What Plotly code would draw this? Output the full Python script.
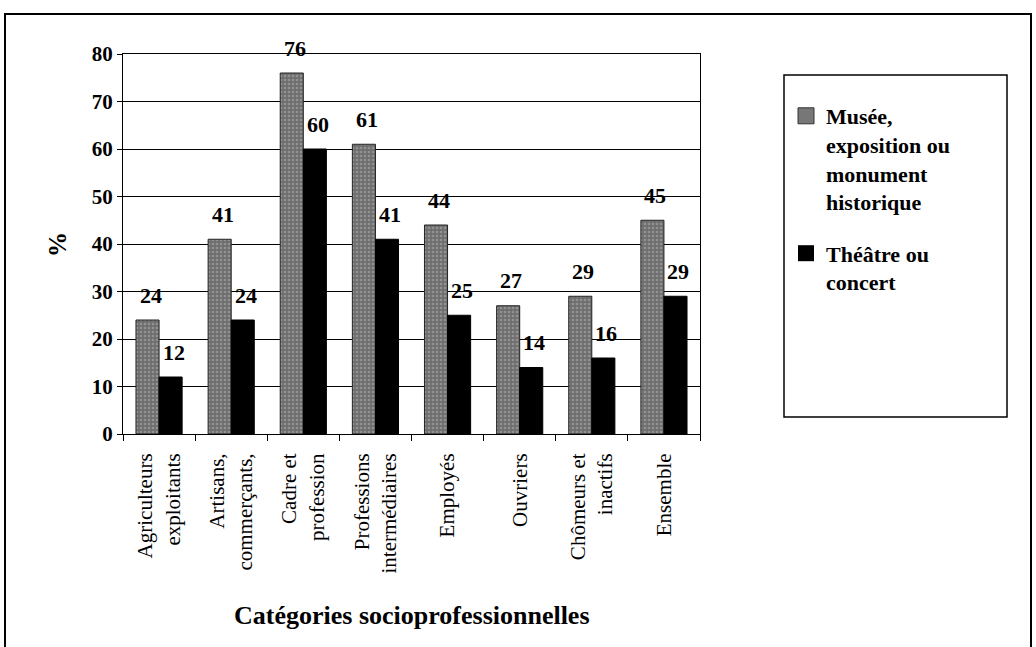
import plotly.graph_objects as go

categories = ["Agriculteurs<br>exploitants", "Artisans,<br>commerçants,", "Cadre et<br>profession",
              "Professions<br>intermédiaires", "Employés", "Ouvriers", "Chômeurs et<br>inactifs", "Ensemble"]
musee = [24, 41, 76, 61, 44, 27, 29, 45]
theatre = [12, 24, 60, 41, 25, 14, 16, 29]
y_ticks = [0, 10, 20, 30, 40, 50, 60, 70, 80]
series_names = ["Musée,<br>exposition ou<br>monument<br>historique", "Théâtre ou<br>concert"]

serif = "Liberation Serif"
W, H = 1036, 647
L, R, T, B = 123, 700, 54, 434
BARGAP = 0.36

def px(x):
    return (x - L) / (R - L)

def py(y):
    return (B - y) / (B - T)

musee_color = "#6e6e6e"
fig = go.Figure()
fig.add_trace(go.Bar(
    x=categories, y=musee, name=series_names[0], showlegend=False,
    marker=dict(color=musee_color, line=dict(color="#222", width=1),
                pattern=dict(shape=".", fgcolor="#b5b5b5", size=4, solidity=0.35)),
))
fig.add_trace(go.Bar(
    x=categories, y=theatre, name=series_names[1], showlegend=False,
    marker=dict(color="black", line=dict(color="black", width=1)),
))
# legend proxies (bigger square symbols)
fig.add_trace(go.Scatter(x=[None], y=[None], mode="markers", name=series_names[0], legendgroup="g1",
                         marker=dict(symbol="square", size=19, color="#777777",
                                     line=dict(color="#333", width=1))))
fig.add_trace(go.Scatter(x=[None], y=[None], mode="markers", name=series_names[1], legendgroup="g2",
                         marker=dict(symbol="square", size=19, color="black")))

# value labels above the bars
cat_px = (R - L) / len(categories)
bar_px = cat_px * (1 - BARGAP) / 2
for vals, sgn in ((musee, -1), (theatre, 1)):
    for c, v in zip(categories, vals):
        fig.add_annotation(x=c, y=v, xref="x", yref="y", text=f"<b>{v}</b>",
                           showarrow=False, xshift=sgn * bar_px / 2 + 3, yshift=25,
                           yanchor="middle", xanchor="center",
                           font=dict(family=serif, size=22, color="black"))

fig.update_layout(
    width=W, height=H,
    margin=dict(l=L, r=W - R, t=T, b=H - B),
    paper_bgcolor="white", plot_bgcolor="white",
    barmode="group", bargap=BARGAP, bargroupgap=0,
    font=dict(family=serif, color="black"),
    showlegend=True,
    legend=dict(x=px(786), y=py(95), xanchor="left", yanchor="top",
                font=dict(family=serif, size=22, color="black"),
                valign="top", tracegroupgap=20, bgcolor="rgba(0,0,0,0)"),
)
fig.update_yaxes(range=[0, 80], tickvals=y_ticks, ticktext=[f"<b>{v}</b>" for v in y_ticks],
                 showgrid=True, gridcolor="black", gridwidth=1,
                 showline=True, linecolor="black", linewidth=1, mirror=True,
                 ticks="outside", ticklen=5, tickcolor="black",
                 tickfont=dict(family=serif, size=21, color="black"), zeroline=False)
fig.update_xaxes(showline=True, linecolor="black", linewidth=1, mirror=True,
                 ticks="outside", ticklen=6, tickcolor="black", tickson="boundaries",
                 tickangle=-90, ticklabelstandoff=10,
                 tickfont=dict(family=serif, size=21, color="black"))

# legend entries bold
for tr in fig.data[2:]:
    tr.name = "<b>" + tr.name.replace("<br>", "</b><br><b>") + "</b>"

# axis titles
fig.add_annotation(xref="paper", yref="paper", x=px(412), y=py(615), text="<b>Catégories socioprofessionnelles</b>",
                   showarrow=False, xanchor="center", yanchor="middle",
                   font=dict(family=serif, size=26, color="black"))
fig.add_annotation(xref="paper", yref="paper", x=px(57), y=py(245), text="<b>%</b>", textangle=-90,
                   showarrow=False, xanchor="center", yanchor="middle",
                   font=dict(family=serif, size=25, color="black"))

# outer frame
fig.add_shape(type="rect", xref="paper", yref="paper",
              x0=px(5), x1=px(1031), y0=py(652), y1=py(14),
              line=dict(color="black", width=2), fillcolor="rgba(0,0,0,0)", layer="below")
# legend frame
fig.add_shape(type="rect", xref="paper", yref="paper",
              x0=px(784), x1=px(1007), y0=py(417), y1=py(75),
              line=dict(color="black", width=1.5), fillcolor="rgba(0,0,0,0)")

fig.write_html("out.html", config={"displayModeBar": False},
               post_script="document.body.style.margin='0px';")
